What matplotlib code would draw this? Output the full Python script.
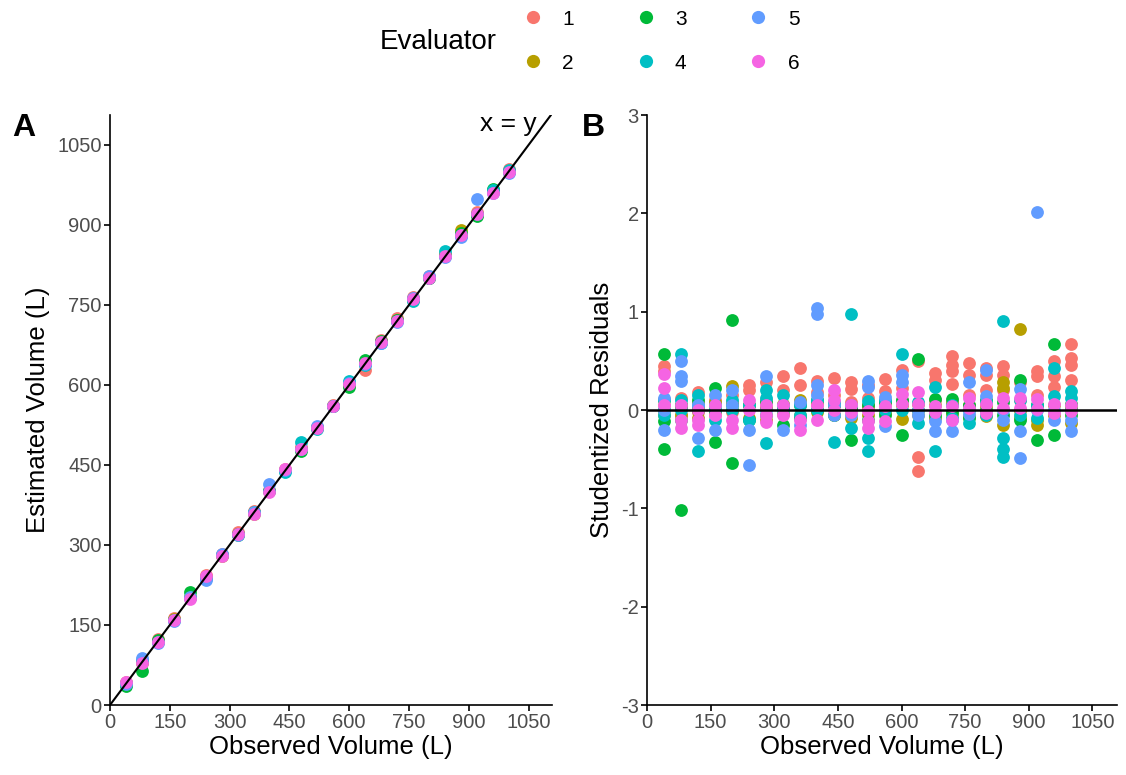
import matplotlib
matplotlib.use("Agg")
import matplotlib.pyplot as plt
from matplotlib.lines import Line2D

# ======================================
# Data
# ======================================
observed = [40, 80, 120, 160, 200, 240, 280, 320, 360, 400, 440, 480, 520,
            560, 600, 640, 680, 720, 760, 800, 840, 880, 920, 960, 1000]

evaluators = ["1", "2", "3", "4", "5", "6"]

# panel A: estimated volume (L), one value per observed volume
est_1 = [44, 82, 123, 163, 203, 243, 284, 324, 364, 403, 443, 483, 522,
         563, 604, 628, 684, 726, 765, 805, 845, 882, 924, 966, 1005]
est_2 = [41, 79, 120, 161, 203, 240, 279, 321, 359, 401, 441, 480, 521,
         561, 599, 641, 680, 721, 761, 800, 843, 891, 918, 961, 999]
est_3 = [35, 64, 121, 160, 212, 239, 281, 318, 361, 401, 441, 476, 520,
         561, 597, 646, 682, 722, 760, 801, 841, 884, 916, 968, 1001]
est_4 = [41, 84, 119, 160, 201, 239, 282, 321, 360, 401, 437, 493, 517,
         560, 607, 638, 679, 720, 758, 801, 852, 881, 921, 965, 1002]
est_5 = [40, 88, 117, 158, 203, 235, 284, 318, 361, 414, 440, 480, 523,
         560, 604, 640, 678, 718, 763, 805, 840, 878, 948, 959, 997]
est_6 = [43, 78, 119, 160, 198, 241, 280, 320, 358, 400, 442, 480, 519,
         560, 602, 642, 680, 720, 761, 800, 841, 881, 921, 960, 1000]

# panel B: studentized residuals, several replicates per observed volume
res_1 = [[0.45, 0.40, 0.05], [0.12, 0.02, -0.05], [0.18, 0.08, -0.02],
         [0.10, 0.05, -0.05], [0.15, 0.08, -0.02], [0.25, 0.20, 0.05],
         [0.28, 0.10, 0.02], [0.35, 0.20, 0.05], [0.43, 0.25, 0.05],
         [0.30, 0.18, 0.05], [0.33, 0.15, 0.05], [0.28, 0.21, 0.08],
         [0.25, 0.12, 0.02], [0.32, 0.19, 0.05], [0.41, 0.22, 0.10],
         [0.50, -0.48, -0.62], [0.38, 0.31, 0.10], [0.55, 0.46, 0.40, 0.26],
         [0.48, 0.36, 0.15], [0.43, 0.36, 0.20], [0.45, 0.36, 0.20],
         [0.28, 0.10, 0.00], [0.40, 0.35, 0.15], [0.50, 0.35, 0.23],
         [0.67, 0.53, 0.46, 0.31]]
res_2 = [[0.10, 0.00, -0.05], [0.05, -0.05], [0.02, -0.08], [0.08, -0.02],
         [0.24, 0.00], [0.05, -0.08], [0.03, -0.10], [0.06, -0.04],
         [-0.05, 0.10], [0.08, -0.02], [0.05, -0.05], [0.02, -0.08],
         [0.05, -0.05], [0.08, -0.03], [-0.09, 0.05], [0.06, -0.05],
         [0.05, -0.08], [0.08, -0.04], [0.05, -0.06], [0.04, -0.06],
         [0.28, 0.22, -0.15], [0.82, 0.00, -0.08], [-0.15, -0.10, 0.05],
         [0.05, -0.05], [-0.13, 0.02]]
res_3 = [[0.57, -0.11, -0.40], [-1.02, 0.05, -0.10], [0.10, 0.00],
         [0.22, -0.33, 0.00], [0.92, -0.54, 0.05], [0.05, -0.10],
         [0.08, -0.05], [-0.15, 0.02], [0.05, -0.08], [0.10, 0.00],
         [0.05, -0.05], [-0.31, 0.02], [0.05, -0.10], [0.08, -0.05],
         [-0.25, 0.10], [0.52, 0.00], [0.11, -0.05], [0.11, -0.02],
         [0.05, -0.08], [0.00, 0.10], [0.08, -0.05], [0.31, -0.10],
         [-0.31, 0.05], [0.67, -0.25], [0.06, -0.05]]
res_4 = [[0.10, 0.00, -0.05], [0.57, 0.10, 0.00], [0.15, 0.05, -0.42],
         [0.05, 0.00, -0.10], [0.10, 0.00], [-0.10, 0.05],
         [0.20, 0.12, -0.34], [0.15, 0.00], [0.05, -0.05], [0.00, 0.10],
         [-0.33, 0.08], [0.98, -0.18], [0.09, -0.28, -0.42], [0.00, 0.10],
         [0.57, 0.00], [-0.13, 0.08], [0.23, -0.42], [0.05, -0.08],
         [-0.13, 0.00], [0.08, -0.05], [0.91, -0.28, -0.40, -0.48],
         [0.10, -0.05], [0.05, -0.08], [0.43, 0.14], [0.19, 0.12, 0.00]]
res_5 = [[0.12, 0.00, -0.20], [0.50, 0.35, 0.30], [0.05, -0.28],
         [0.15, -0.20], [0.20, 0.05], [-0.20, -0.56], [0.35, 0.00],
         [-0.20, 0.05], [0.08, -0.15], [1.04, 0.98, 0.25, 0.15],
         [0.05, -0.05], [-0.05, 0.05], [0.30, 0.23], [0.13, -0.16],
         [0.36, 0.28], [0.00, -0.05], [-0.11, -0.21], [-0.21, -0.10],
         [0.28, -0.04], [0.41, 0.14], [0.00, -0.10], [0.21, -0.21, -0.49],
         [2.01, 0.00], [-0.10, 0.00], [-0.21, -0.10]]
res_6 = [[0.37, 0.22, 0.05], [0.05, -0.10, -0.18], [0.00, -0.10, -0.15],
         [0.05, -0.05], [-0.10, -0.18], [0.10, 0.00], [0.05, -0.05, -0.12],
         [0.05, -0.05], [-0.10, -0.20], [0.05, -0.10], [0.20, 0.10, 0.00],
         [0.05, -0.02], [-0.01, -0.11, -0.18], [0.04, -0.11], [0.16, 0.06],
         [0.18, 0.06], [0.04, -0.02], [0.04, -0.10], [0.12, 0.02],
         [0.06, -0.03], [0.12, 0.02], [0.12, 0.02], [0.11, 0.01],
         [0.06, -0.03], [-0.01, 0.05]]

estimates = [est_1, est_2, est_3, est_4, est_5, est_6]
residuals = [res_1, res_2, res_3, res_4, res_5, res_6]

# ======================================
# Style
# ======================================
plt.rcParams.update({
    "font.family": ["Liberation Sans", "DejaVu Sans"],
    "axes.unicode_minus": False,
})
colors = ["#F8766D", "#B79F00", "#00BA38", "#00BFC4", "#619CFF", "#F564E3"]
tick_grey = "#4D4D4D"
pt_size = 85

fig = plt.figure(figsize=(11.26, 7.75), dpi=100, facecolor="white")
axA = fig.add_axes([0.0977, 0.0903, 0.3923, 0.7613])
axB = fig.add_axes([0.5746, 0.0903, 0.4174, 0.7613])


def style_axis(ax):
    for side in ["top", "right"]:
        ax.spines[side].set_visible(False)
    for side in ["left", "bottom"]:
        ax.spines[side].set_linewidth(1.2)
        ax.spines[side].set_color("black")
    ax.tick_params(axis="both", direction="out", length=4, width=1.2,
                   color="black", labelcolor=tick_grey, labelsize=14.5, pad=2)


# ======================================
# Panel A
# ======================================
for est, col in zip(estimates, colors):
    axA.scatter(observed, est, s=pt_size, color=col, linewidths=0, zorder=2)
axA.plot([0, 1110], [0, 1110], color="black", linewidth=1.5, zorder=3)
axA.text(1000, 1090, "x = y", ha="center", va="center", fontsize=19)
axA.set_xlim(0, 1108)
axA.set_ylim(0, 1106)
axA.set_xticks(range(0, 1051, 150))
axA.set_yticks(range(0, 1051, 150))
axA.set_xlabel("Observed Volume (L)", fontsize=18.5, labelpad=2)
axA.set_ylabel("Estimated Volume (L)", fontsize=18.5, labelpad=5)
style_axis(axA)

# ======================================
# Panel B
# ======================================
for res, col in zip(residuals, colors):
    xs, ys = [], []
    for obs, vals in zip(observed, res):
        for v in vals:
            xs.append(obs)
            ys.append(v)
    axB.scatter(xs, ys, s=pt_size, color=col, linewidths=0, zorder=2)
axB.axhline(0, color="black", linewidth=1.8, zorder=3)
axB.set_xlim(0, 1108)
axB.set_ylim(-3, 3)
axB.set_xticks(range(0, 1051, 150))
axB.set_yticks(range(-3, 4))
axB.set_xlabel("Observed Volume (L)", fontsize=18.5, labelpad=2)
axB.set_ylabel("Studentized Residuals", fontsize=18.5, labelpad=5)
style_axis(axB)

# panel letters
fig.text(0.011, 0.835, "A", fontsize=23, fontweight="bold", va="center")
fig.text(0.517, 0.835, "B", fontsize=23, fontweight="bold", va="center")

# ======================================
# Legend
# ======================================
handles = [Line2D([0], [0], marker="o", linestyle="", markersize=9.5,
                  markerfacecolor=c, markeredgewidth=0) for c in colors]
fig.text(0.337, 0.946, "Evaluator", fontsize=20, ha="left", va="center")
fig.legend(handles, evaluators, loc="center left", ncol=3, frameon=False,
           bbox_to_anchor=(0.4476, 0.947), fontsize=15,
           handlelength=1.0, handletextpad=0.9, columnspacing=2.95,
           labelspacing=1.2)

fig.savefig("out.png", dpi=100, facecolor="white")
